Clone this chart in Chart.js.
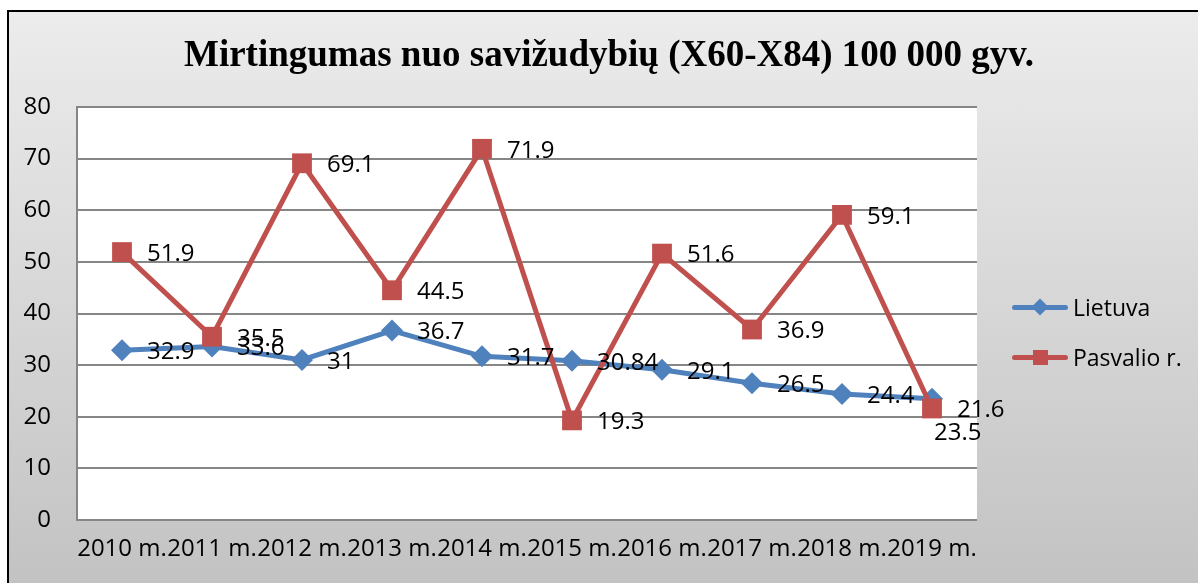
<!DOCTYPE html>
<html>
<head>
<meta charset="utf-8">
<script src="https://cdn.jsdelivr.net/npm/chart.js@4.4.0/dist/chart.umd.min.js"></script>
<style>
  html, body { margin: 0; padding: 0; width: 1198px; height: 583px; overflow: hidden; background: #fff; }
  #frame {
    position: absolute; left: 7px; top: 10px; width: 1200px; height: 580px;
    border-left: 2px solid #000; border-top: 2px solid #000;
    background: linear-gradient(#ececec, #c2c2c2);
  }
  #wrap { position: absolute; left: 0; top: 0; width: 1200px; height: 580px; }
  .leg { position: absolute; left: 1003px; height: 26px; display: flex; align-items: center;
         font: 23px 'Open Sans', sans-serif; color: #000; }
  .key { position: relative; width: 56px; height: 26px; margin-right: 5px; }
  .key .ln { position: absolute; left: 0; top: 11px; width: 56px; height: 5px; border-radius: 3px; }
  .key .mk { position: absolute; }
</style>
</head>
<body>
<div id="frame">
  <div id="wrap"><canvas id="chart"></canvas></div>
  <div id="legend"></div>
</div>
<script>
/* Mirtingumas nuo savižudybių — line chart */
const title    = 'Mirtingumas nuo savižudybių (X60-X84) 100 000 gyv.';
const years    = ['2010 m.', '2011 m.', '2012 m.', '2013 m.', '2014 m.', '2015 m.', '2016 m.', '2017 m.', '2018 m.', '2019 m.'];
const lietuva  = [32.9, 33.6, 31, 36.7, 31.7, 30.84, 29.1, 26.5, 24.4, 23.5];
const pasvalio = [51.9, 35.5, 69.1, 44.5, 71.9, 19.3, 51.6, 36.9, 59.1, 21.6];
const yTicks   = [0, 10, 20, 30, 40, 50, 60, 70, 80];

const BLUE = '#4F81BD';
const RED  = '#C0504D';
const FONT = "'Open Sans', sans-serif";

// white plot area
const plotBg = {
  id: 'plotBg',
  beforeDraw(chart) {
    const { ctx, chartArea: a } = chart;
    ctx.save();
    ctx.fillStyle = '#fff';
    ctx.fillRect(a.left, a.top, a.right - a.left, a.bottom - a.top);
    ctx.restore();
  }
};

// title centred over the whole frame (the built-in one is squeezed by the legend padding)
const frameTitle = {
  id: 'frameTitle',
  afterDraw(chart) {
    const ctx = chart.ctx;
    ctx.save();
    ctx.font = "bold 37px 'Liberation Serif', 'Times New Roman', serif";
    ctx.fillStyle = '#000';
    ctx.textAlign = 'center';
    ctx.textBaseline = 'middle';
    ctx.fillText(title, chart.width / 2, 44);
    ctx.restore();
  }
};

// value labels to the right of each point
const valueLabels = {
  id: 'valueLabels',
  afterDatasetsDraw(chart) {
    const ctx = chart.ctx;
    ctx.save();
    ctx.font = '24px ' + FONT;
    ctx.fillStyle = '#000';
    ctx.textBaseline = 'middle';
    ctx.textAlign = 'left';
    chart.data.datasets.forEach((ds, di) => {
      const meta = chart.getDatasetMeta(di);
      meta.data.forEach((pt, i) => {
        const txt = String(ds.data[i]);
        if (ds.label === 'Lietuva' && i === ds.data.length - 1) {
          ctx.fillText(txt, pt.x + 2, pt.y + 34);   // Excel pushed this one below
        } else {
          ctx.fillText(txt, pt.x + 25, pt.y + 2);
        }
      });
    });
    ctx.restore();
  }
};

const datasets = [
  {
    label: 'Lietuva',
    data: lietuva,
    borderColor: BLUE,
    backgroundColor: BLUE,
    borderWidth: 5,
    pointStyle: 'rectRot',
    pointRadius: 11,
    pointBorderWidth: 0,
    tension: 0,
    order: 1,
  },
  {
    label: 'Pasvalio r.',
    data: pasvalio,
    borderColor: RED,
    backgroundColor: RED,
    borderWidth: 5,
    pointStyle: 'rect',
    pointRadius: 14,
    pointBorderWidth: 0,
    tension: 0,
    order: 0,
  }
];

new Chart(document.getElementById('chart'), {
  type: 'line',
  data: { labels: years, datasets },
  plugins: [plotBg, valueLabels, frameTitle],
  options: {
    responsive: true,
    maintainAspectRatio: false,
    animation: false,
    layout: { padding: { left: 0, right: 232, top: 95, bottom: 0 } },
    plugins: {
      legend: { display: false },
      tooltip: { enabled: false },
      title: { display: false }
    },
    scales: {
      x: {
        offset: true,
        grid: { display: false, drawTicks: false },
        border: { display: false },
        ticks: { color: '#000', font: { family: FONT, size: 24 }, autoSkip: false, maxRotation: 0, padding: 15 },
        afterFit: s => { s.height = 72; }
      },
      y: {
        min: 0,
        max: 80,
        afterBuildTicks: s => { s.ticks = yTicks.map(v => ({ value: v })); },
        grid: { color: '#868686', lineWidth: 2, drawTicks: false },
        border: { display: true, color: '#868686', width: 2 },
        ticks: { color: '#000', font: { family: FONT, size: 24 }, padding: 26 },
        afterFit: s => { s.width = 68; }
      }
    }
  }
});

// legend, built from the datasets
const legendTops = [282, 332];
const legendEl = document.getElementById('legend');
datasets.forEach((ds, i) => {
  const item = document.createElement('div');
  item.className = 'leg';
  item.style.top = legendTops[i] + 'px';
  const key = document.createElement('span');
  key.className = 'key';
  const ln = document.createElement('span');
  ln.className = 'ln';
  ln.style.background = ds.borderColor;
  const mk = document.createElement('span');
  mk.className = 'mk';
  mk.style.background = ds.borderColor;
  if (ds.pointStyle === 'rectRot') {
    Object.assign(mk.style, { width: '12px', height: '12px', left: '22px', top: '7px', transform: 'rotate(45deg)' });
  } else {
    Object.assign(mk.style, { width: '15px', height: '15px', left: '20.5px', top: '6px' });
  }
  key.appendChild(ln);
  key.appendChild(mk);
  const txt = document.createElement('span');
  txt.textContent = ds.label;
  item.appendChild(key);
  item.appendChild(txt);
  legendEl.appendChild(item);
});
</script>
</body>
</html>
